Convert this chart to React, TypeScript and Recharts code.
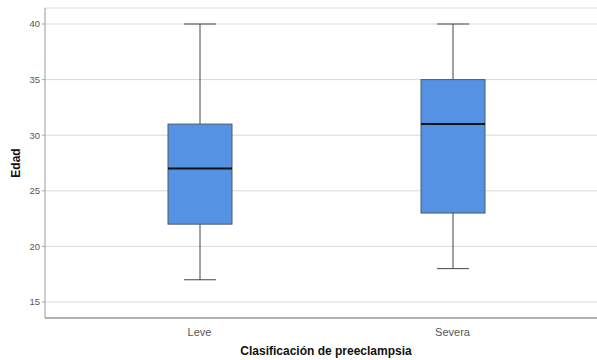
import React from 'react';
import { ComposedChart, Bar, XAxis, YAxis, CartesianGrid } from 'recharts';

// Estadísticos de la edad por clasificación
const categories = ['Leve', 'Severa'];
const minimum = [17, 18];
const q1 = [22, 23];
const median = [27, 31];
const q3 = [31, 35];
const maximum = [40, 40];
const yTicks = [15, 20, 25, 30, 35, 40];

const data = categories.map((name, i) => ({
  name,
  range: [minimum[i], maximum[i]],
  min: minimum[i],
  q1: q1[i],
  median: median[i],
  q3: q3[i],
  max: maximum[i],
}));

const FONT = '"Liberation Sans", Arial, sans-serif';

// Dibuja caja + bigotes dentro del rango [min, max] que da el Bar
const BoxShape = (props: any) => {
  const { x, y, width, height, payload } = props;
  const top = Math.min(y, y + height);
  const bottom = Math.max(y, y + height);
  const span = payload.max - payload.min;
  const toY = (v: number) => top + ((payload.max - v) / span) * (bottom - top);
  const cx = x + width / 2;
  const cap = width / 4;
  const yMax = toY(payload.max);
  const yQ3 = toY(payload.q3);
  const yMed = toY(payload.median);
  const yQ1 = toY(payload.q1);
  const yMin = toY(payload.min);
  return (
    <g>
      <line x1={cx} x2={cx} y1={yMax} y2={yQ3} stroke="#444" strokeWidth={1} />
      <line x1={cx} x2={cx} y1={yQ1} y2={yMin} stroke="#444" strokeWidth={1} />
      <line x1={cx - cap} x2={cx + cap} y1={yMax} y2={yMax} stroke="#444" strokeWidth={1} />
      <line x1={cx - cap} x2={cx + cap} y1={yMin} y2={yMin} stroke="#444" strokeWidth={1} />
      <rect x={x} y={yQ3} width={width} height={yQ1 - yQ3} fill="#5592e4" stroke="#4d5a6b" strokeWidth={1} />
      <line x1={x} x2={x + width} y1={yMed} y2={yMed} stroke="#111" strokeWidth={2} />
    </g>
  );
};

export default function App() {
  return (
    <div style={{ position: 'absolute', left: 0, top: 0, width: 597, height: 360, background: '#fff' }}>
      <ComposedChart
        width={597}
        height={360}
        data={data}
        margin={{ top: 8, right: 0, bottom: 0, left: 0 }}
      >
        <CartesianGrid horizontal vertical={false} stroke="#d9d9d9" strokeWidth={1} />
        <XAxis
          dataKey="name"
          height={42}
          padding={{ left: 28, right: 18 }}
          axisLine={{ stroke: '#777' }}
          tickLine={false}
          tick={{ fontSize: 11, fill: '#555', fontFamily: FONT }}
          tickMargin={4}
          label={{
            value: 'Clasificación de preeclampsia',
            position: 'insideBottom',
            offset: 5,
            dx: 5,
            style: { fontSize: 12, fontWeight: 'bold', fill: '#111', fontFamily: FONT },
          }}
        />
        <YAxis
          width={45}
          type="number"
          domain={[13.56, 41.44]}
          ticks={yTicks}
          allowDataOverflow
          axisLine={{ stroke: '#999' }}
          tickLine={{ stroke: '#aaa' }}
          tickSize={3}
          tick={{ fontSize: 9.5, fill: '#555', fontFamily: FONT }}
          label={{
            value: 'Edad',
            angle: -90,
            position: 'insideLeft',
            offset: 16,
            style: { fontSize: 12, fontWeight: 'bold', fill: '#111', fontFamily: FONT, textAnchor: 'middle' },
          }}
        />
        <Bar dataKey="range" barSize={64} shape={BoxShape} isAnimationActive={false} />
      </ComposedChart>
    </div>
  );
}
